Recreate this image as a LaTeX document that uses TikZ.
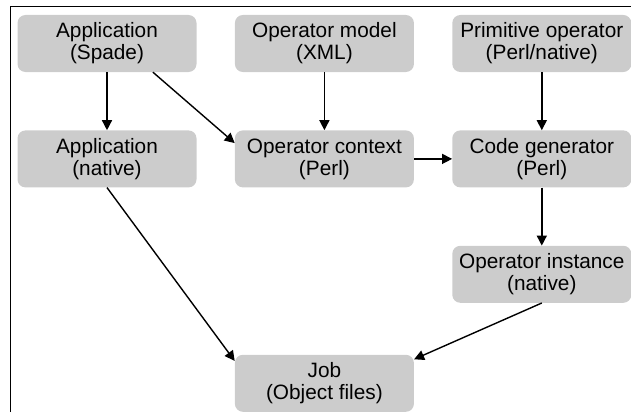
\documentclass[tikz,border=0pt]{standalone}
\usepackage{fontspec}
\setmainfont{Liberation Sans}
\usetikzlibrary{positioning,arrows.meta}
\definecolor{boxgray}{HTML}{CCCCCC}

\begin{document}
\begin{tikzpicture}[x=1pt,y=-1pt,
			box/.style={fill=boxgray,rounded corners=8pt,minimum width=179pt,minimum height=57pt,
				align=center,inner sep=0pt,font=\fontsize{20.8}{22}\selectfont},
			flow/.style={-{Triangle[length=10pt,width=10pt]},line width=1.4pt},
			node distance=58pt and 38pt]
			\useasboundingbox (0,0) rectangle (631,412);
			\draw[line width=1pt] (10,412) -- (10,7) -- (631,7);
			\node[box] (spade) at (107,43.5) {Application\\(Spade)};
			\node[box, right=of spade] (model) {Operator model\\(XML)};
			\node[box, right=of model] (prim) {Primitive operator\\(Perl/native)};
			\node[box, below=of spade] (native) {Application\\(native)};
			\node[box, below=of model] (ctx) {Operator context\\(Perl)};
			\node[box, below=of prim] (gen) {Code generator\\(Perl)};
			\node[box, below=of gen] (inst) {Operator instance\\(native)};
			\node[box, below=167pt of ctx] (job) {Job\\(Object files)};
			\draw[flow] (spade) -- (native);
			\draw[flow] (spade.-32) -- (ctx.170);
			\draw[flow] (model) -- (ctx);
			\draw[flow] (prim) -- (gen);
			\draw[flow] (ctx) -- (gen);
			\draw[flow] (gen) -- (inst);
			\draw[flow] (native.south) -- (job.166);
			\draw[flow] (inst.south) -- (job.15);
		\end{tikzpicture}
\end{document}
